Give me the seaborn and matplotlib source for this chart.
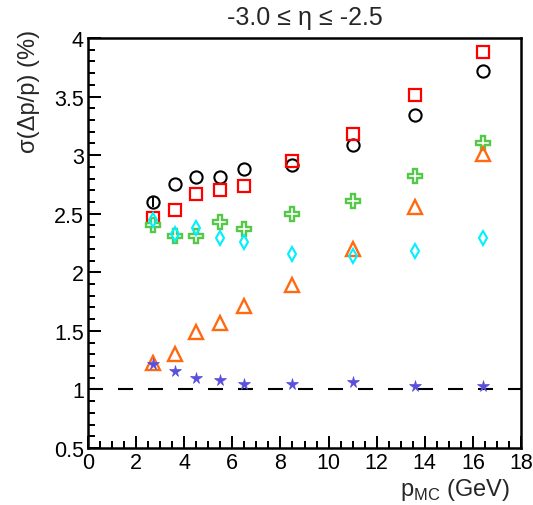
import numpy as np
import pandas as pd
import matplotlib
matplotlib.use('Agg')
import matplotlib.pyplot as plt
import seaborn as sns
from matplotlib.ticker import MultipleLocator

# momentum bins (GeV)
p_mc = [2.7, 3.6, 4.5, 5.5, 6.5, 8.5, 11.0, 13.6, 16.4]

# sigma(dp/p) in %, one list per configuration
black_circle = [2.60, 2.75, 2.81, 2.81, 2.88, 2.92, 3.09, 3.34, 3.72]
black_err = [0.04, 0.0, 0.0, 0.0, 0.0, 0.0, 0.0, 0.0, 0.0]
red_square = [2.46, 2.53, 2.67, 2.70, 2.74, 2.95, 3.18, 3.51, 3.88]
green_cross = [2.40, 2.31, 2.31, 2.43, 2.37, 2.50, 2.61, 2.82, 3.10]
orange_triangle = [1.23, 1.30, 1.49, 1.57, 1.71, 1.89, 2.20, 2.56, 3.01]
cyan_diamond = [2.45, 2.33, 2.38, 2.29, 2.26, 2.16, 2.14, 2.18, 2.29]
blue_star = [1.22, 1.16, 1.10, 1.08, 1.05, 1.05, 1.06, 1.03, 1.03]

title = '-3.0 \u2264 \u03b7 \u2264 -2.5'

sns.set_style('ticks')
plt.rcParams['font.family'] = ['Liberation Sans', 'DejaVu Sans']
plt.rcParams['mathtext.fontset'] = 'custom'
plt.rcParams['mathtext.rm'] = 'Liberation Sans'

fig = plt.figure(figsize=(5.33, 5.06), dpi=100)
ax = fig.add_axes([0.1651, 0.1126, 0.8124, 0.8103])

# reference line at 1%
ax.axhline(1.0, color='black', lw=1.5, dashes=(7.2, 7.2), zorder=1)

# small stat error on the first black point
ax.vlines(p_mc, np.array(black_circle) - np.array(black_err),
          np.array(black_circle) + np.array(black_err), color='black', lw=1.4, zorder=2)

styles = [
    (black_circle, 'o', 'black', 'none', 8.8, 1.5),
    (red_square, 's', '#ff0000', 'none', 8.2, 1.6),
    (green_cross, 'P', '#55c84a', 'white', 10.0, 1.7),
    (orange_triangle, '^', '#ff6a10', 'none', 9.5, 1.7),
    (cyan_diamond, 'd', '#00f0ff', 'none', 7.0, 1.5),
    (blue_star, '*', '#5a4fdc', '#5a4fdc', 8.5, 0.5),
]

for i, (vals, mk, col, fc, ms, mew) in enumerate(styles):
    df = pd.DataFrame({'p': p_mc, 'sigma': vals})
    sns.lineplot(data=df, x='p', y='sigma', ax=ax, linestyle='', marker=mk,
                 color=col, mfc=fc, mec=col, ms=ms, mew=mew, zorder=3 + i)

ax.set_xlim(0, 18)
ax.set_ylim(0.5, 4.0)
ax.xaxis.set_major_locator(MultipleLocator(2))
ax.xaxis.set_minor_locator(MultipleLocator(0.5))
ax.yaxis.set_major_locator(MultipleLocator(0.5))
ax.yaxis.set_minor_locator(MultipleLocator(0.1))
ax.set_yticks(np.arange(0.5, 4.01, 0.5))
ax.set_yticklabels(['0.5', '1', '1.5', '2', '2.5', '3', '3.5', '4'])

ax.tick_params(which='both', direction='in', width=1.44, top=False, right=False,
               labelsize=15.5, color='black', labelcolor='black')
ax.tick_params(which='major', length=9, pad=3)
ax.tick_params(which='minor', length=5)
for s in ax.spines.values():
    s.set_visible(True)
    s.set_linewidth(1.8)
    s.set_color('black')

ax.set_xlabel('')
ax.set_ylabel('')

fig.text(305 / 533, 1 - 18 / 506, title, ha='center', va='center', fontsize=18)
fig.text(29 / 533, 1 - 30 / 506, '\u03c3(\u0394p/p) (%)', rotation=90,
         ha='center', va='top', fontsize=17)
fig.text(510 / 533, 1 - 490 / 506, r'p$_{\mathregular{MC}}$ (GeV)',
         ha='right', va='center', fontsize=17)

fig.savefig('out.png', dpi=100)
